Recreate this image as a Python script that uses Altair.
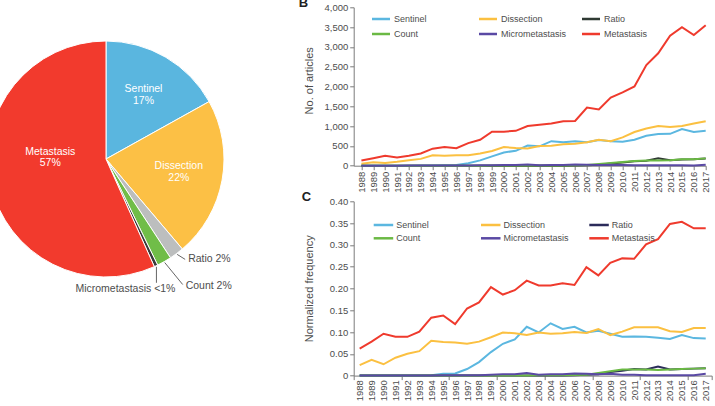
import math
import altair as alt
import pandas as pd

# ---------------------------------------------------------------- data
years = list(range(1988, 2018))
series = ["Sentinel", "Dissection", "Ratio", "Count", "Micrometastasis", "Metastasis"]

# Panel B: number of articles per year
b_sentinel = [0, 0, 0, 0, 1, 2, 4, 10, 20, 60, 135, 235, 335, 375, 510, 490, 620, 590, 620, 590,
              650, 620, 605, 655, 755, 800, 805, 925, 850, 880]
b_dissection = [50, 88, 68, 100, 140, 172, 262, 250, 265, 265, 310, 370, 470, 445, 435, 500, 505, 540, 555, 590,
                655, 620, 715, 850, 940, 1005, 975, 1005, 1065, 1125]
b_ratio = [0] * 18 + [5, 10, 25, 55, 80, 115, 125, 185, 135, 155, 160, 180]
b_count = [0, 0, 0, 0, 0, 0, 0, 0, 0, 0, 1, 2, 3, 3, 4, 5, 6, 8, 10,
           20, 45, 70, 95, 120, 130, 130, 140, 160, 165, 185]
b_micro = [0, 0, 1, 1, 2, 2, 3, 5, 6, 8, 10, 12, 15, 18, 28, 12, 18, 20, 30, 25,
           20, 25, 15, 10, 12, 10, 12, 10, 8, 25]
b_metastasis = [130, 190, 250, 210, 250, 310, 430, 470, 440, 570, 655, 860, 860, 880, 1000, 1035, 1065, 1125, 1130, 1470,
                1420, 1720, 1850, 2000, 2540, 2840, 3280, 3500, 3300, 3545]

# Panel C: normalized frequency per year
c_sentinel = [0, 0, 0, 0, 0, 0, 0.001, 0.004, 0.005, 0.015, 0.031, 0.054, 0.073, 0.083, 0.112, 0.099, 0.120, 0.107,
              0.112, 0.099, 0.103, 0.096, 0.089, 0.090, 0.089, 0.087, 0.084, 0.093, 0.086, 0.085]
c_dissection = [0.024, 0.036, 0.026, 0.041, 0.050, 0.056, 0.080, 0.077, 0.076, 0.073, 0.078, 0.088, 0.099, 0.097,
                0.093, 0.099, 0.096, 0.097, 0.100, 0.098, 0.107, 0.093, 0.101, 0.111, 0.111, 0.111, 0.102, 0.100,
                0.109, 0.109]
c_ratio = [0] * 18 + [0.001, 0.002, 0.003, 0.008, 0.011, 0.015, 0.014, 0.021, 0.014, 0.015, 0.016, 0.017]
c_count = [0] * 12 + [0.0005] * 3 + [0.001] * 3 + [0.0015] + [0.002, 0.006, 0.010, 0.014, 0.014, 0.014, 0.013,
                                                              0.014, 0.015, 0.016, 0.017]
c_micro = [0, 0, 0, 0, 0, 0, 0.0005, 0.001, 0.001, 0.001, 0.001, 0.002, 0.003, 0.003, 0.006, 0.002, 0.003, 0.003,
           0.005, 0.004, 0.003, 0.004, 0.002, 0.002, 0.001, 0.001, 0.001, 0.001, 0.001, 0.004]
c_metastasis = [0.062, 0.078, 0.096, 0.089, 0.089, 0.101, 0.133, 0.138, 0.118, 0.154, 0.168, 0.203, 0.186, 0.196,
                0.218, 0.207, 0.207, 0.212, 0.208, 0.249, 0.230, 0.259, 0.269, 0.268, 0.301, 0.313, 0.348, 0.353,
                0.338, 0.338]

# Panel A: share of keywords (%)
pie_shares = [17, 22, 2, 2, 0.5, 57]
pie_pct = ["17%", "22%", "2%", "2%", "<1%", "57%"]

# ---------------------------------------------------------------- style
FONT = "Liberation Sans"
TXT = "#4d4d4d"
AX = "#7a7a7a"
colors_b = ["#5bb7e0", "#fbc041", "#2f3a33", "#6bb944", "#5a49a4", "#ef3a2d"]
colors_c = ["#5bb7e0", "#fbc041", "#2b2b5a", "#6bb944", "#5a49a4", "#ef3a2d"]
colors_pie = ["#5ab6df", "#fcc045", "#bcbebe", "#70bd48", "#3a3a3a", "#f23a2d"]


def long_table(columns):
    rows = []
    for k, (name, vals) in enumerate(zip(series, columns)):
        for yr, v in zip(years, vals):
            rows.append({"year": yr, "series": name, "value": v, "k": k})
    return pd.DataFrame(rows)


def legend_table(x0s, rows_y, sym_len, text_dx):
    recs = []
    for i, name in enumerate(series):
        col, row = i % 3, i // 3
        recs.append({"series": name, "x0": x0s[col], "x1": x0s[col] + sym_len,
                     "tx": x0s[col] + text_dx, "y": rows_y[row]})
    return pd.DataFrame(recs)


def panel(table, colors, x_scale, x_axis, y_scale, y_axis, width, height, legend, letter, letter_pos, extra=None):
    color = alt.Color("series:N", scale=alt.Scale(domain=series, range=colors), legend=None)
    x = alt.X("year:Q", scale=x_scale, axis=x_axis)
    y = alt.Y("value:Q", scale=y_scale, axis=y_axis)
    lines = alt.Chart(table).mark_line(strokeWidth=2).encode(x=x, y=y, color=color, detail="series:N")
    leg_rule = alt.Chart(legend).mark_rule(strokeWidth=2.5).encode(
        x=alt.X("x0:Q", scale=None), x2="x1:Q", y=alt.Y("y:Q", scale=None), color=color)
    leg_text = alt.Chart(legend).mark_text(align="left", baseline="middle", fontSize=9, color=TXT).encode(
        x=alt.X("tx:Q", scale=None), y=alt.Y("y:Q", scale=None), text="series:N")
    tag = alt.Chart(alt.Data(values=[{"t": letter}])).mark_text(
        align="left", baseline="alphabetic", fontSize=13, fontWeight="bold", color="#222").encode(
        x=alt.value(letter_pos[0]), y=alt.value(letter_pos[1]), text="t:N")
    layers = [lines]
    if extra is not None:
        layers.append(extra(x, y))
    layers += [leg_rule, leg_text, tag]
    ch = alt.layer(*layers).properties(width=width, height=height)
    if extra is not None:
        ch = ch.resolve_axis(x="independent")
    return ch


# ---------------------------------------------------------------- panel B
x_axis_b = alt.Axis(values=years, format="d", labelAngle=270, tickSize=4, labelPadding=1.5,
                    labelOverlap=False, labelFontSize=9.5, labelColor=TXT, domainColor=AX, tickColor=AX,
                    title=None, grid=False)
y_axis_b = alt.Axis(values=list(range(0, 4001, 500)), tickSize=4, labelPadding=2, labelFontSize=9.5,
                    labelColor=TXT, domainColor=AX, tickColor=AX, grid=False,
                    labelExpr="datum.value == 0 ? '0' : format(datum.value, ',')",
                    title="No. of articles", titleFontSize=11, titleFontWeight="normal", titleColor=TXT,
                    titleX=-39, titleY=73, titleAngle=270, titleBaseline="bottom")
chart_b = panel(
    long_table([b_sentinel, b_dissection, b_ratio, b_count, b_micro, b_metastasis]), colors_b,
    alt.Scale(domain=[1987.35, 2017.0], nice=False, zero=False), x_axis_b,
    alt.Scale(domain=[0, 4000], nice=False), y_axis_b,
    352, 158.4,
    legend_table([18.3, 125.3, 228.3], [11.7, 26.7], 18, 22), "B", (-55, 0))

# ---------------------------------------------------------------- panel C
x_axis_c = alt.Axis(values=years, format="d", labelAngle=270, ticks=False, tickSize=0, labelPadding=4,
                    labelOverlap=False, labelFontSize=9.5, labelColor=TXT, domainColor=AX,
                    title=None, grid=False)
y_axis_c = alt.Axis(values=[i * 0.05 for i in range(9)], tickSize=4, labelPadding=2, labelFontSize=9.5,
                    labelColor=TXT, domainColor=AX, tickColor=AX, grid=False,
                    labelExpr="datum.value == 0 ? '0' : format(datum.value, '.2f')",
                    title="Normalized frequency", titleFontSize=11, titleFontWeight="normal", titleColor=TXT,
                    titleX=-39, titleY=87, titleAngle=270, titleBaseline="bottom")
tick_years = [1987.5 + 4 * i for i in range(8)] + [2017.5]


def c_ticks(x, y):
    tick_axis = alt.Axis(values=tick_years, labels=False, domain=False, tickSize=4, tickColor=AX,
                         orient="bottom", title=None, grid=False)
    return alt.Chart(long_table([c_sentinel])).mark_line(opacity=0).encode(
        x=alt.X("year:Q", axis=tick_axis), y=y)


chart_c = panel(
    long_table([c_sentinel, c_dissection, c_ratio, c_count, c_micro, c_metastasis]), colors_c,
    alt.Scale(domain=[1987.5, 2017.5], nice=False, zero=False), x_axis_c,
    alt.Scale(domain=[0, 0.4], nice=False), y_axis_c,
    358, 174.3,
    legend_table([20, 127.3, 235.6], [23.7, 37], 19.5, 22.5), "C", (-52, -0.5), extra=c_ticks)

# ---------------------------------------------------------------- panel A (pie)
CX, CY, R = 118, 151.7, 118
LH = 11.5
pie_df = pd.DataFrame({"category": series, "share": pie_shares, "pct": pie_pct, "k": range(len(series))})
pie_df["label"] = pie_df["category"] + "\n" + pie_df["pct"]

base = alt.Chart(pie_df).encode(theta=alt.Theta("share:Q", stack=True), order=alt.Order("k:Q"))
arcs = base.mark_arc(outerRadius=R, stroke="white", strokeWidth=1).encode(
    color=alt.Color("category:N", scale=alt.Scale(domain=series, range=colors_pie), legend=None),
    x=alt.value(CX), y=alt.value(CY))
# in-slice labels: every slice stays in the stack, only the wide ones get text
inner_a = base.transform_calculate(
    lab="(datum.category == 'Sentinel' || datum.category == 'Dissection') ? datum.label : ''"
).mark_text(radius=74, lineBreak="\n", lineHeight=LH, fontSize=10.5, color="white",
            baseline="middle", dy=-LH / 2).encode(text="lab:N", x=alt.value(CX), y=alt.value(CY))
inner_b = base.transform_calculate(
    lab="datum.category == 'Metastasis' ? datum.label : ''"
).mark_text(radius=57, lineBreak="\n", lineHeight=LH, fontSize=10.5, color="white",
            baseline="middle", dy=-19).encode(text="lab:N", x=alt.value(CX), y=alt.value(CY))

# leader lines for the thin slices, anchored at each slice's mid-angle
total = sum(pie_shares)
leader_shift = {"Ratio": (8, 5), "Count": (18, 22), "Micrometastasis": (0, 16)}
text_shift = {"Ratio": (3, 0, "left"), "Count": (3, 1, "left"), "Micrometastasis": (19, 6, "right")}
recs = []
cum = 0.0
for name, share, pct in zip(series, pie_shares, pie_pct):
    mid = (cum + share / 2) / total * 2 * math.pi
    cum += share
    if name in leader_shift:
        sx = CX + (R + 1) * math.sin(mid)
        sy = CY - (R + 1) * math.cos(mid)
        ex, ey = sx + leader_shift[name][0], sy + leader_shift[name][1]
        tdx, tdy, al = text_shift[name]
        recs.append({"category": name, "txt": f"{name} {pct}", "sx": sx, "sy": sy, "ex": ex, "ey": ey,
                     "tx": ex + tdx, "ty": ey + tdy, "al": al})
ann = pd.DataFrame(recs)
leaders = alt.Chart(ann).mark_rule(color="#555", strokeWidth=0.9).encode(
    x=alt.X("sx:Q", scale=None), y=alt.Y("sy:Q", scale=None), x2="ex:Q", y2="ey:Q")
outer_l = alt.Chart(ann).transform_filter("datum.al == 'left'").mark_text(
    align="left", baseline="middle", fontSize=10.5, color=TXT).encode(
    x=alt.X("tx:Q", scale=None), y=alt.Y("ty:Q", scale=None), text="txt:N")
outer_r = alt.Chart(ann).transform_filter("datum.al == 'right'").mark_text(
    align="right", baseline="middle", fontSize=10.5, color=TXT).encode(
    x=alt.X("tx:Q", scale=None), y=alt.Y("ty:Q", scale=None), text="txt:N")

pie = alt.layer(arcs, inner_a, inner_b, leaders, outer_l, outer_r).properties(width=250, height=300)

# ---------------------------------------------------------------- layout
right = alt.vconcat(chart_b, chart_c, spacing=35, bounds="flush").resolve_scale(color="independent")
chart = alt.hconcat(pie, right, spacing=115.7, bounds="flush").resolve_scale(
    color="independent").properties(
    padding={"left": -14, "top": -2.7, "right": 0, "bottom": 0}, background="white"
).configure(font=FONT).configure_view(strokeWidth=0, stroke="transparent")

chart.save("out.html", embed_options={"renderer": "svg", "actions": False})
